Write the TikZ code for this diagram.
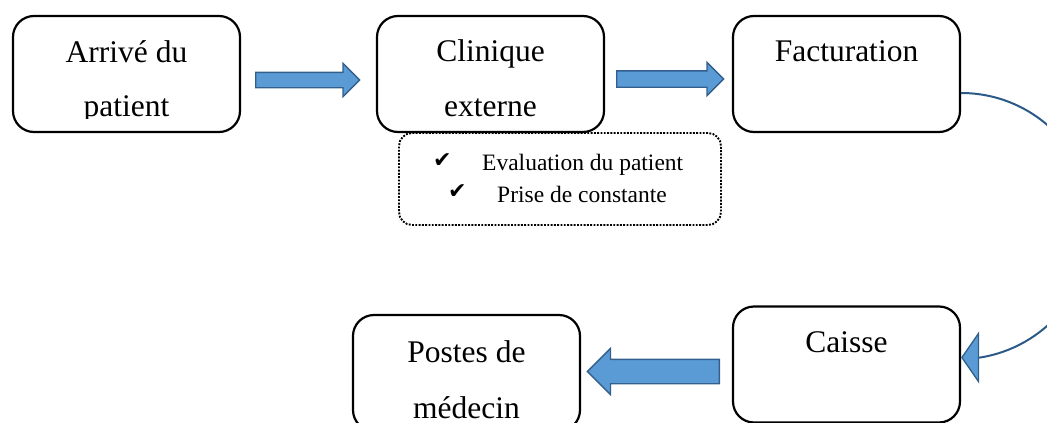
\documentclass[tikz,border=0pt]{standalone}
\usepackage{fontspec}
\setmainfont{Liberation Serif}
\newfontfamily\symfont{DejaVu Sans}
\usetikzlibrary{shapes.arrows,arrows.meta,calc}

\definecolor{arrowfill}{HTML}{5B9BD5}
\definecolor{arrowline}{HTML}{325F8C}
\definecolor{curveline}{HTML}{2B5A88}

\tikzset{
  stepbox/.style={draw=black, line width=2.2pt, rounded corners=21pt,
    minimum width=227pt, minimum height=116pt, inner sep=0pt},
  notebox/.style={draw=black, line width=1.9pt, dash pattern=on 1.9pt off 1.4pt,
    rounded corners=13pt, minimum width=322pt, minimum height=92pt, inner sep=0pt},
  bigtext/.style={anchor=base, inner sep=0pt,
    font=\fontsize{31.5}{36}\selectfont},
  smalltext/.style={anchor=base west, inner sep=0pt,
    font=\fontsize{23.5}{28}\selectfont},
  tick/.style={anchor=base west, inner sep=0pt,
    font=\symfont\fontsize{22}{26}\selectfont},
  blockarrow/.style={single arrow, draw=arrowline, fill=arrowfill,
    line width=1.3pt, inner xsep=0pt, text height=0pt, text depth=0pt,
    single arrow head indent=0pt, anchor=tail},
}

\begin{document}
\begin{tikzpicture}[x=1pt, y=-1pt]
  \useasboundingbox (0,0) rectangle (1047,423);
  \clip (0,0) rectangle (1047,423);

  % process steps
  \node[stepbox] (arrive)  at (126.5,74)  {};
  \node[stepbox] (clinic)  at (490.5,74)  {};
  \node[stepbox] (fact)    at (846.5,74)  {};
  \node[stepbox] (caisse)  at (846.5,364.5) {};
  \node[stepbox] (postes)  at (466.5,373) {};

  % step labels (second lines are cut at the box's text area)
  \node[bigtext] (arriveA) at (126.5,62) {Arrivé du};
  \begin{scope}
    \clip (0,0) rectangle (1047,118);
    \node[bigtext] (arriveB) at (126.5,116.5) {patient};
    \node[bigtext] (clinicB) at (490.5,116) {externe};
  \end{scope}
  \node[bigtext] (clinicA) at (490.5,61) {Clinique};
  \node[bigtext] (factA)   at (846.5,61) {Facturation};
  \node[bigtext] (caisseA) at (846.5,352) {Caisse};
  \node[bigtext] (postesA) at (466.5,362) {Postes de};
  \node[bigtext] (postesB) at (466.5,418) {médecin};

  % checklist under the outpatient clinic
  \node[notebox] (note) at (560,179) {};
  \node[tick]      (tick1) at (433,167) {✔};
  \node[smalltext] (item1) at (482,170) {Evaluation du patient};
  \node[tick]      (tick2) at (448,198) {✔};
  \node[smalltext] (item2) at (497,202) {Prise de constante};

  % block arrows between steps
  \node[blockarrow, minimum height=104pt, inner ysep=7pt,
        single arrow head extend=9pt] (ar1) at (255,80) {};
  \node[blockarrow, minimum height=107pt, inner ysep=7.5pt,
        single arrow head extend=8.5pt] (ar2) at (616,79) {};
  \node[blockarrow, minimum height=132pt, inner ysep=11.5pt,
        single arrow head extend=11pt, shape border rotate=180] (ar3) at (720,371.5) {};

  % curved connector from billing down to the cash desk
  \coordinate (fout) at ($(fact.east)+(0,19)$);
  \coordinate (cin)  at ($(caisse.east)+(0,-7)$);
  \draw[curveline, line width=2pt,
        -{Triangle[length=18pt, width=52pt, fill=arrowfill, color=arrowline, line width=1.3pt]}]
    (fout) .. controls ($(fout)+(73,0)$) and ($(fout)+(132,59)$) .. ($(fout)+(132,132)$)
           .. controls ($(fout)+(132,198)$) and ($(cin)+(83,-10)$) .. ($(cin)+(19,0)$)
           -- (cin);
\end{tikzpicture}
\end{document}
